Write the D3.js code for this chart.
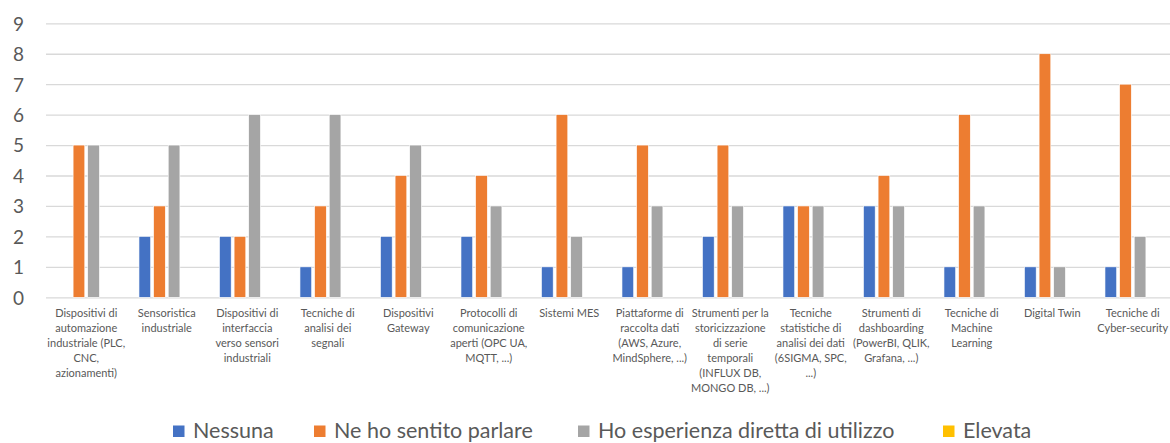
<!DOCTYPE html>
<html><head><meta charset="utf-8">
<script src="https://cdn.jsdelivr.net/npm/d3@7"></script>
<style>html,body{margin:0;padding:0;background:#fff;}svg{display:block;}</style>
</head><body>
<svg id="chart" width="1170" height="443"></svg>
<script>
const categories = [
  ["Dispositivi di","automazione","industriale (PLC,","CNC,","azionamenti)"],
  ["Sensoristica","industriale"],
  ["Dispositivi di","interfaccia","verso sensori","industriali"],
  ["Tecniche di","analisi dei","segnali"],
  ["Dispositivi","Gateway"],
  ["Protocolli di","comunicazione","aperti (OPC UA,","MQTT, ...)"],
  ["Sistemi MES"],
  ["Piattaforme di","raccolta dati","(AWS, Azure,","MindSphere, ...)"],
  ["Strumenti per la","storicizzazione","di serie","temporali","(INFLUX DB,","MONGO DB, ...)"],
  ["Tecniche","statistiche di","analisi dei dati","(6SIGMA, SPC,","...)"],
  ["Strumenti di","dashboarding","(PowerBI, QLIK,","Grafana, ...)"],
  ["Tecniche di","Machine","Learning"],
  ["Digital Twin"],
  ["Tecniche di","Cyber-security"]
];
const seriesNames = ["Nessuna","Ne ho sentito parlare","Ho esperienza diretta di utilizzo","Elevata"];
const nessuna   = [0,2,2,1,2,2,1,1,2,3,3,1,1,1];
const sentito   = [5,3,2,3,4,4,6,5,5,3,4,6,8,7];
const esperienza= [5,5,6,6,5,3,2,3,3,3,3,3,1,2];
const elevata   = [0,0,0,0,0,0,0,0,0,0,0,0,0,0];
const yTicks = [0,1,2,3,4,5,6,7,8,9];
const colors = ["#4472C4","#ED7D31","#A5A5A5","#FFC000"];

(function(){
const seriesValues = [nessuna, sentito, esperienza, elevata];
const svg = d3.select("#chart");
const font = "Lato, 'Open Sans', sans-serif";
const pLeft = 46, pRight = 1173, pTop = 23.3, pBottom = 297.3;

const x0 = d3.scaleBand().domain(d3.range(categories.length)).range([pLeft, pRight]).padding(0);
const bw = x0.bandwidth();
const off = bw * 0.155;
const x1 = d3.scaleBand().domain(d3.range(seriesNames.length)).range([off, bw - off]).paddingInner(0.2).paddingOuter(0);
const y = d3.scaleLinear().domain([0, 9]).range([pBottom, pTop]);

// gridlines
const yAxis = d3.axisLeft(y).tickValues(yTicks).tickSize(-(1170 - pLeft)).tickFormat(d3.format("d"));
const gy = svg.append("g").attr("transform", `translate(${pLeft},0)`).call(yAxis);
gy.select(".domain").remove();
gy.selectAll(".tick line").attr("stroke", "#D9D9D9").attr("stroke-width", 1.3);
gy.selectAll(".tick text").attr("x", -22).attr("fill", "#595959")
  .style("font-family", font).style("font-size", "19px").attr("dy", "0.36em");

// bars
categories.forEach((c, i) => {
  seriesValues.forEach((vals, s) => {
    const v = vals[i];
    if (v <= 0) return;
    svg.append("rect")
      .attr("x", x0(i) + x1(s))
      .attr("y", y(v))
      .attr("width", x1.bandwidth())
      .attr("height", y(0) - y(v))
      .attr("fill", colors[s])
      .attr("stroke", "#fff").attr("stroke-width", 0.6);
  });
});

// x axis labels
const xAxis = d3.axisBottom(x0).tickSize(0).tickFormat("");
const gx = svg.append("g").attr("transform", `translate(0,${pBottom})`).call(xAxis);
gx.select(".domain").remove();
gx.selectAll(".tick").each(function(d) {
  const t = d3.select(this).append("text")
    .attr("fill", "#595959").attr("text-anchor", "middle")
    .style("font-family", font).style("font-size", "11px");
  categories[d].forEach((line, k) => {
    t.append("tspan").attr("x", 0).attr("y", 19.5 + k * 15).text(line);
  });
});

// legend
const legendX = [173, 314, 578, 943];
const lg = svg.append("g");
seriesNames.forEach((n, s) => {
  lg.append("rect").attr("x", legendX[s]).attr("y", 425.5).attr("width", 11.5).attr("height", 11.5).attr("fill", colors[s]);
  lg.append("text").attr("x", legendX[s] + 20).attr("y", 438).text(n)
    .attr("fill", "#595959").style("font-family", font).style("font-size", "21.5px");
});
})();
</script>
</body></html>
